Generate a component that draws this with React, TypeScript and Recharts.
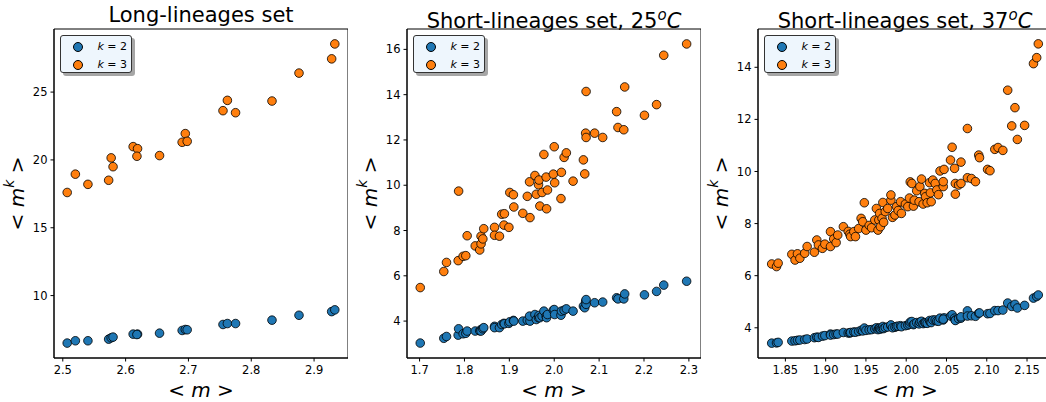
import React from 'react';
import { ScatterChart, Scatter, XAxis, YAxis, ReferenceArea, Label } from 'recharts';

const FONT = '"DejaVu Sans", sans-serif';
const BLUE = '#1f77b4';
const ORANGE = '#ff7f0e';

// Long-lineages set
const longX = [2.507, 2.52, 2.54, 2.573, 2.577, 2.58, 2.612, 2.619, 2.618, 2.654, 2.69, 2.695, 2.698, 2.755, 2.762, 2.775, 2.833, 2.876, 2.928, 2.933];
const longK2 = [6.5, 6.67, 6.67, 6.79, 6.89, 6.94, 7.16, 7.16, 7.13, 7.23, 7.43, 7.5, 7.48, 7.87, 7.94, 7.94, 8.19, 8.55, 8.82, 8.95];
const longK3 = [17.6, 18.95, 18.2, 18.5, 20.15, 19.5, 20.98, 20.83, 20.27, 20.32, 21.3, 21.94, 21.37, 23.63, 24.39, 23.48, 24.34, 26.4, 27.45, 28.55];

// Short-lineages set, 25C
const s25X = [1.7015, 1.754, 1.76, 1.786, 1.787, 1.797, 1.803, 1.806, 1.824, 1.834, 1.837, 1.837, 1.841, 1.843, 1.867, 1.867, 1.878, 1.883, 1.888, 1.889,
  1.899, 1.901, 1.909, 1.91, 1.93, 1.94, 1.946, 1.945, 1.957, 1.96, 1.965, 1.966, 1.968, 1.973, 1.977, 1.982, 1.983, 1.985, 1.998, 2.0,
  2.001, 2.015, 2.016, 2.022, 2.027, 2.042, 2.065, 2.068, 2.07, 2.071, 2.071, 2.09, 2.108, 2.139, 2.142, 2.155, 2.157, 2.201, 2.228, 2.244, 2.295];
const s25K2 = [3.03, 3.24, 3.32, 3.38, 3.66, 3.44, 3.46, 3.56, 3.56, 3.57, 3.63, 3.56, 3.66, 3.71, 3.77, 3.71, 3.71, 3.85, 3.9, 3.88,
  3.9, 3.97, 4.03, 4.0, 4.0, 4.04, 4.0, 4.22, 4.29, 4.07, 4.15, 4.25, 4.15, 4.22, 4.44, 4.22, 4.15, 4.29, 4.48, 4.51,
  4.29, 4.26, 4.44, 4.48, 4.54, 4.44, 4.66, 4.59, 4.88, 4.74, 4.95, 4.81, 4.84, 5.03, 4.98, 4.98, 5.2, 5.16, 5.31, 5.59, 5.76];
const s25K3 = [5.48, 6.19, 6.59, 6.67, 9.74, 6.86, 6.89, 7.77, 7.32, 7.14, 7.41, 7.75, 7.63, 8.08, 8.14, 7.79, 7.75, 8.72, 8.24, 8.74,
  8.14, 9.68, 9.58, 9.04, 8.76, 9.51, 8.57, 10.15, 10.43, 9.6, 10.02, 10.23, 9.08, 9.68, 11.36, 10.36, 8.96, 9.79, 10.49, 11.7,
  10.11, 9.41, 10.57, 11.23, 11.43, 10.18, 11.12, 10.5, 12.3, 12.11, 14.14, 12.3, 12.11, 13.25, 12.55, 12.45, 14.34, 13.09, 13.56, 15.74, 16.24];

// Short-lineages set, 37C
const s37X = [1.833, 1.839, 1.841, 1.858, 1.862, 1.865, 1.868, 1.874, 1.877, 1.886,
  1.889, 1.891, 1.896, 1.899, 1.906, 1.906, 1.91, 1.913, 1.915, 1.922,
  1.928, 1.93, 1.931, 1.935, 1.937, 1.941, 1.944, 1.946, 1.948, 1.95,
  1.954, 1.957, 1.961, 1.963, 1.965, 1.966, 1.967, 1.968, 1.97, 1.971,
  1.972, 1.974, 1.977, 1.981, 1.981, 1.983, 1.986, 1.988, 1.99, 1.993,
  1.994, 1.999, 2.002, 2.004, 2.005, 2.007, 2.009, 2.01, 2.013, 2.016,
  2.017, 2.019, 2.021, 2.023, 2.024, 2.026, 2.029, 2.03, 2.031, 2.033,
  2.036, 2.038, 2.04, 2.042, 2.046, 2.047, 2.046, 2.055, 2.057, 2.06,
  2.061, 2.061, 2.065, 2.068, 2.068, 2.076, 2.076, 2.081, 2.086, 2.09,
  2.091, 2.101, 2.104, 2.11, 2.114, 2.12, 2.126, 2.131, 2.135, 2.138,
  2.147, 2.158, 2.162, 2.164];
const s37K2 = [3.41, 3.42, 3.44, 3.49, 3.5, 3.52, 3.53, 3.55, 3.57, 3.62,
  3.64, 3.63, 3.68, 3.7, 3.76, 3.72, 3.74, 3.76, 3.76, 3.82,
  3.8, 3.8, 3.82, 3.84, 3.83, 3.86, 3.9, 3.88, 3.99, 3.9,
  3.92, 3.93, 3.96, 4.0, 3.93, 3.98, 3.99, 3.95, 3.98, 4.05,
  3.97, 4.01, 4.03, 4.08, 4.11, 4.0, 4.02, 4.05, 4.06, 4.08,
  4.04, 4.08, 4.1, 4.14, 4.22, 4.24, 4.12, 4.15, 4.2, 4.15,
  4.22, 4.25, 4.16, 4.2, 4.19, 4.17, 4.28, 4.22, 4.2, 4.3,
  4.3, 4.26, 4.25, 4.37, 4.3, 4.38, 4.33, 4.45, 4.5, 4.37,
  4.3, 4.28, 4.35, 4.37, 4.42, 4.65, 4.45, 4.46, 4.44, 4.56,
  4.57, 4.54, 4.55, 4.66, 4.66, 4.68, 4.95, 4.82, 4.9, 4.76,
  4.86, 5.14, 5.2, 5.26];
const s37K3 = [6.45, 6.35, 6.48, 6.82, 6.6, 6.84, 6.67, 6.86, 7.12, 6.9,
  7.37, 7.18, 7.05, 7.21, 7.12, 7.69, 7.41, 7.27, 7.56, 7.88,
  7.7, 7.59, 7.5, 7.69, 7.5, 7.81, 8.2, 8.07, 8.8, 7.75,
  7.93, 7.84, 8.14, 8.58, 7.75, 8.14, 8.39, 7.88, 8.2, 8.81,
  8.05, 8.46, 8.58, 8.9, 9.1, 8.24, 8.33, 8.65, 8.5, 8.84,
  8.39, 8.75, 8.65, 8.98, 9.6, 9.54, 8.67, 8.9, 9.26, 8.84,
  9.42, 9.71, 8.75, 9.16, 9.03, 8.8, 9.57, 9.18, 8.84, 9.67,
  9.54, 9.29, 9.11, 10.02, 9.42, 10.08, 9.61, 10.44, 10.93, 10.12,
  9.54, 9.13, 9.48, 9.54, 10.36, 11.65, 9.76, 9.73, 9.61, 10.63,
  10.53, 10.08, 10.03, 10.85, 10.92, 10.81, 13.12, 11.75, 12.45, 11.23,
  11.77, 14.14, 14.37, 14.9];

const longXTicks = [2.5, 2.6, 2.7, 2.8, 2.9];
const longYTicks = [10, 15, 20, 25];
const s25XTicks = [1.7, 1.8, 1.9, 2.0, 2.1, 2.2, 2.3];
const s25YTicks = [4, 6, 8, 10, 12, 14, 16];
const s37XTicks = [1.85, 1.9, 1.95, 2.0, 2.05, 2.1, 2.15];
const s37YTicks = [4, 6, 8, 10, 12, 14];

const toPoints = (xs: number[], ys: number[]) => xs.map((x, i) => ({ x, y: ys[i] }));

const AXIS_W = 54;
const X_AXIS_H = 44;
const TOP = 29;
const H = 402;

const dot = (color: string) => (p: any) => (
  <circle cx={p.cx} cy={p.cy} r={4.3} fill={color} stroke="#000" strokeWidth={0.8} />
);

const YLabel = ({ viewBox }: any) => {
  const cx = viewBox.x + viewBox.width - 37;
  const cy = viewBox.y + viewBox.height / 2;
  return (
    <text transform={`translate(${cx},${cy}) rotate(-90)`} textAnchor="middle" dominantBaseline="central"
      fontFamily={FONT} fontSize={20} fill="#000">
      <tspan>{'< '}</tspan>
      <tspan fontStyle="italic">m</tspan>
      <tspan fontStyle="italic" fontSize={14} dy={-8}>k</tspan>
      <tspan dy={8}>{' >'}</tspan>
    </text>
  );
};

const XLabel = ({ viewBox }: any) => {
  const cx = viewBox.x + viewBox.width / 2;
  return (
    <text x={cx} y={viewBox.y + 39} textAnchor="middle" fontFamily={FONT} fontSize={20} fill="#000">
      <tspan>{'< '}</tspan>
      <tspan fontStyle="italic">m</tspan>
      <tspan>{' >'}</tspan>
    </text>
  );
};

const LegendBox = () => (
  <div style={{
    position: 'absolute', left: AXIS_W + 6, top: TOP + 6, width: 72, height: 38, boxSizing: 'border-box',
    background: '#eef6fd', border: '1px solid #333', borderRadius: 3, boxShadow: '3px 3px 0 rgba(0,0,0,0.35)',
    fontFamily: FONT, fontSize: 11,
  }}>
    {[{ c: BLUE, k: '2' }, { c: ORANGE, k: '3' }].map((r, i) => (
      <div key={i} style={{ position: 'absolute', left: 0, top: 3 + i * 18, width: 70, height: 15 }}>
        <div style={{ position: 'absolute', left: 12, top: 3, width: 8, height: 8, borderRadius: '50%', background: r.c, border: '0.8px solid #000' }} />
        <div style={{ position: 'absolute', right: 4, top: 0, lineHeight: '15px' }}>
          <i>k</i> = {r.k}
        </div>
      </div>
    ))}
  </div>
);

interface PanelProps {
  left: number;
  title: React.ReactNode;
  k2: { x: number; y: number }[];
  k3: { x: number; y: number }[];
  xDomain: [number, number];
  yDomain: [number, number];
  xTicks: number[];
  yTicks: number[];
  xFmt: (v: number) => string;
}

const Panel = ({ left, title, k2, k3, xDomain, yDomain, xTicks, yTicks, xFmt }: PanelProps) => {
  const width = AXIS_W + 294;
  const tickStyle = { fontSize: 11.5, fill: '#000', fontFamily: FONT };
  return (
    <div style={{ position: 'absolute', left, top: 0, width, height: H }}>
      <div style={{ position: 'absolute', left: AXIS_W, width: 294, top: 3, textAlign: 'center', fontFamily: FONT, fontSize: 21, lineHeight: '24px', whiteSpace: 'nowrap', color: '#000' }}>
        {title}
      </div>
      <ScatterChart width={width} height={H} margin={{ top: TOP, right: 0, left: 0, bottom: 0 }}>
        <XAxis type="number" dataKey="x" domain={xDomain} allowDataOverflow ticks={xTicks} tickFormatter={xFmt}
          height={X_AXIS_H} tick={tickStyle} tickSize={3.5} tickMargin={4} stroke="#000" interval={0}>
          <Label content={<XLabel />} />
        </XAxis>
        <YAxis type="number" dataKey="y" domain={yDomain} allowDataOverflow ticks={yTicks}
          width={AXIS_W} tick={tickStyle} tickSize={3.5} tickMargin={3} stroke="#000" interval={0}>
          <Label content={<YLabel />} />
        </YAxis>
        <ReferenceArea x1={xDomain[0]} x2={xDomain[1]} y1={yDomain[0]} y2={yDomain[1]} fill="none" stroke="#000" strokeWidth={1} />
        <Scatter name="k = 2" data={k2} shape={dot(BLUE)} isAnimationActive={false} />
        <Scatter name="k = 3" data={k3} shape={dot(ORANGE)} isAnimationActive={false} />
      </ScatterChart>
      <LegendBox />
    </div>
  );
};

const tempTitle = (t: string) => (
  <span>
    Short-lineages set, {t}
    <span style={{ fontStyle: 'italic', fontSize: 15, verticalAlign: 8 }}>o</span>
    <span style={{ fontStyle: 'italic' }}>C</span>
  </span>
);

export default function App() {
  return (
    <div style={{ position: 'fixed', left: 0, top: 0, width: 1046, height: H, overflow: 'hidden', background: '#fff' }}>
      <Panel left={0} title="Long-lineages set" k2={toPoints(longX, longK2)} k3={toPoints(longX, longK3)}
        xDomain={[2.486, 2.954]} yDomain={[5.4, 29.65]} xTicks={longXTicks} yTicks={longYTicks} xFmt={(v) => v.toFixed(1)} />
      <Panel left={353} title={tempTitle('25')} k2={toPoints(s25X, s25K2)} k3={toPoints(s25X, s25K3)}
        xDomain={[1.672, 2.327]} yDomain={[2.37, 16.9]} xTicks={s25XTicks} yTicks={s25YTicks} xFmt={(v) => v.toFixed(1)} />
      <Panel left={704} title={tempTitle('37')} k2={toPoints(s37X, s37K2)} k3={toPoints(s37X, s37K3)}
        xDomain={[1.816, 2.181]} yDomain={[2.84, 15.47]} xTicks={s37XTicks} yTicks={s37YTicks} xFmt={(v) => v.toFixed(2)} />
    </div>
  );
}
